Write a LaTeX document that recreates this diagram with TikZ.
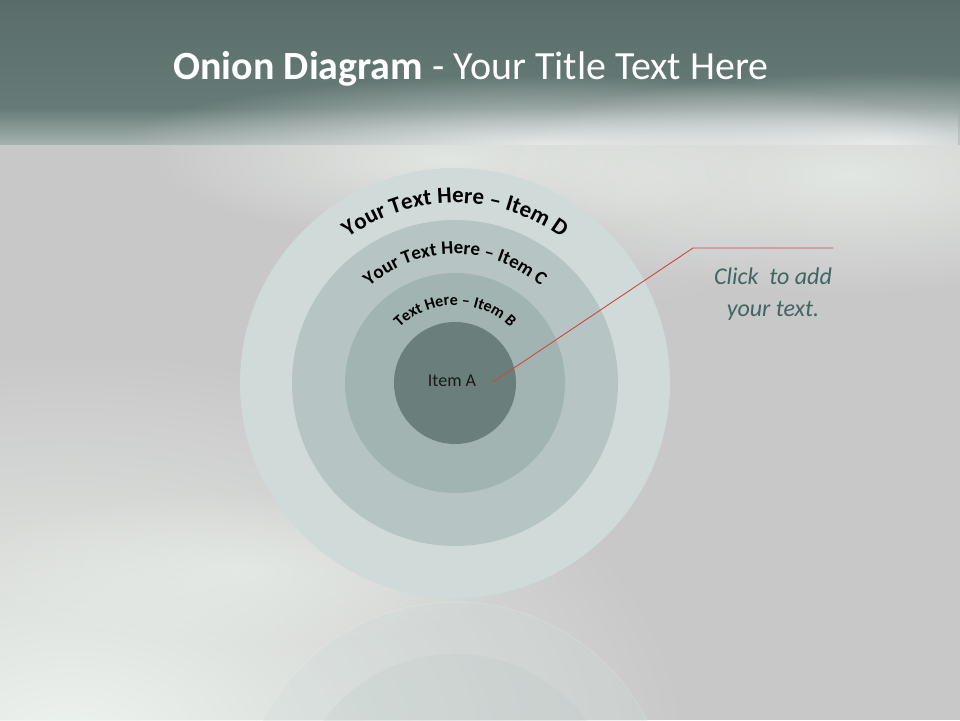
\documentclass[tikz,border=0pt]{standalone}
\usepackage{fontspec}
\setmainfont{Carlito}
\usetikzlibrary{decorations.text,fadings,calc}

\definecolor{bg}{HTML}{C8C8C8}
\definecolor{barTop}{HTML}{596C69}
\definecolor{barBot}{HTML}{6B807C}
\definecolor{ringD}{HTML}{D0DBD9}
\definecolor{ringC}{HTML}{B6C5C3}
\definecolor{ringB}{HTML}{A1B4B1}
\definecolor{ringA}{HTML}{6A7F7B}
\definecolor{clicktxt}{HTML}{3F6661}
\definecolor{callred}{HTML}{D04545}
\definecolor{glow}{HTML}{EEF4EF}

\tikzfading[name=softglow, inner color=transparent!0, outer color=transparent!100]
\tikzfading[name=fadeup, top color=transparent!100, bottom color=transparent!0]

\begin{document}
\begin{tikzpicture}[x=1pt,y=1pt,
  ring/.style={circle, draw=none, inner sep=0pt, minimum size=#1},
  smoke/.style={fill=glow, path fading=softglow},
  arctext/.style={decorate, decoration={text along path, text align=center, text={#1}}},
  callout/.style={draw=callred, line width=0.9pt},
]
\useasboundingbox (0,0) rectangle (960,720);
% background
\fill[bg] (0,0) rectangle (960,720);
% smoke (radial fading reaches transparency at half the given radii)
\fill[smoke, opacity=1] (70,-30) ellipse [x radius=620, y radius=400];
\fill[smoke, opacity=0.5] (240,150) ellipse [x radius=280, y radius=80];
\fill[smoke, opacity=0.7] (450,560) ellipse [x radius=300, y radius=80];
\fill[smoke, opacity=0.7] (850,545) ellipse [x radius=360, y radius=120];
\fill[smoke, opacity=0.25] (640,530) ellipse [x radius=160, y radius=120];

% reflection
\begin{scope}
  \clip (0,0) rectangle (960,119);
  \fill[ringD, opacity=0.3] (455,-97) circle [radius=215];
  \fill[ringC, opacity=0.2] (455,-97) circle [radius=163];
  \draw[white, opacity=0.15, line width=1pt] (455,-97) circle [radius=215];
\end{scope}

% title bar
\shade[top color=barTop, bottom color=barBot] (0,575) rectangle (960,720);
\begin{scope}
  \clip (0,575) rectangle (960,720);
  \fill[white, path fading=fadeup, opacity=0.4] (0,575) rectangle (960,612);
  \fill[white, path fading=softglow, opacity=0.7] (540,575) ellipse [x radius=420, y radius=70];
  \fill[white, path fading=softglow, opacity=0.7] (880,578) ellipse [x radius=360, y radius=70];
\end{scope}
\node[anchor=base, text=white, font=\fontsize{40}{48}\selectfont] (title) at (471,640)
  {\textbf{Onion Diagram} - Your Title Text Here};

% onion
\node[ring=430, fill=ringD] (D) at (455,337) {};
\node[ring=326, fill=ringC] (C) at (455,337) {};
\node[ring=220, fill=ringB] (B) at (455,337) {};
\node[ring=122, fill=ringA] (A) at (455,337) {};
\node[text=black!90, font=\fontsize{18}{22}\selectfont] (Alabel) at (452,339) {Item A};

\path[arctext={|\fontsize{23}{27}\selectfont\bfseries|Your Text Here {\textendash} Item D}]
  (D.center) ++(170:180) arc[start angle=170, end angle=10, radius=180];
\path[arctext={|\fontsize{19}{22}\selectfont\bfseries|Your Text Here {\textendash} Item C}]
  (D.center) ++(170:129) arc[start angle=170, end angle=10, radius=129];
\path[arctext={|\fontsize{16}{19}\selectfont\bfseries|Text Here {\textendash} Item B}]
  (D.center) ++(170:78) arc[start angle=170, end angle=10, radius=78];

% callout
\node[align=center, text=clicktxt, font=\fontsize{24}{32}\selectfont\itshape] (click) at (773,426)
  {Click\ \ to add\\your text.};
\coordinate (tip) at ($(A.center)+(38,1)$);
\coordinate (bend) at (693,472);
\coordinate (lineend) at (833,472);
\draw[callout] (tip) -- (bend) -- (lineend);
\end{tikzpicture}
\end{document}
